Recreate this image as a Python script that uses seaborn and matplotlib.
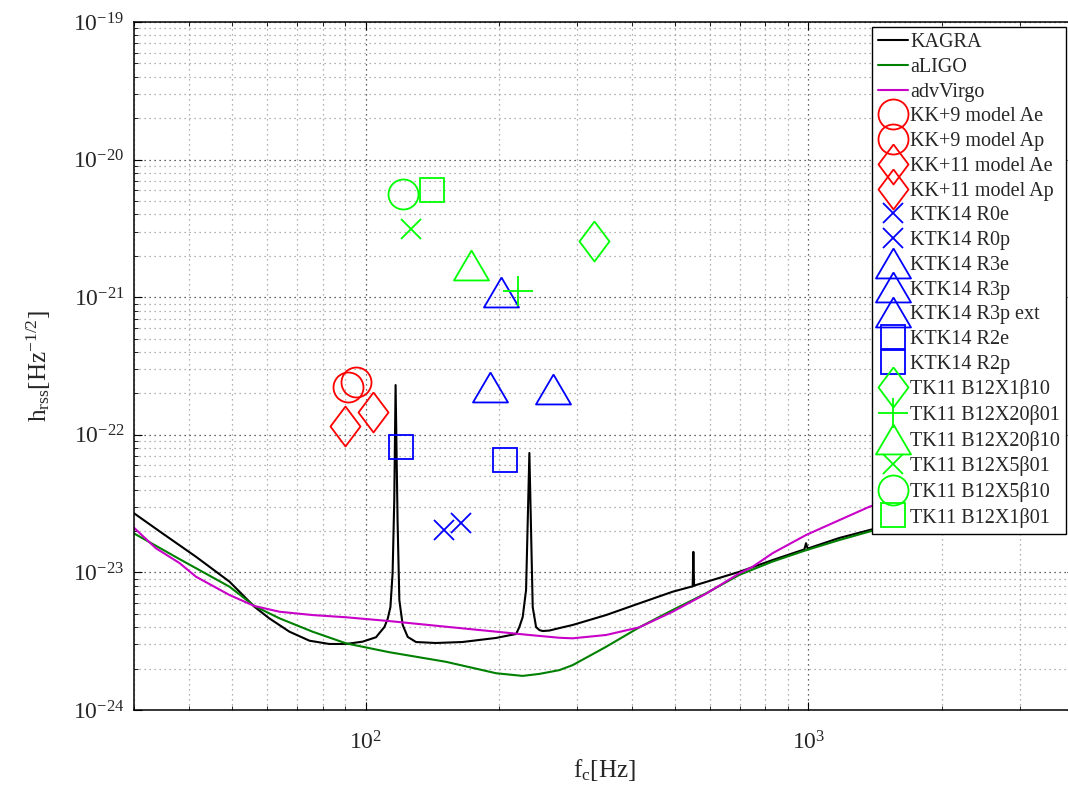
import seaborn as sns
import matplotlib.pyplot as plt
from matplotlib.ticker import NullFormatter, FixedLocator

# Noise curves (f in Hz, h in Hz^-1/2)
kagra_f = [30, 34.8, 41.4, 49.3, 56.1, 60.6, 67.3, 74.7, 82.8, 90.4, 98.5, 105.6, 107.5,
           110.3, 112.2, 113.8, 115.1, 116.1, 116.9, 118.1, 119.2, 121.3, 124.5, 130, 144,
           165.4, 197, 218.8, 222.5, 226.4, 230.4, 234.4, 238.5, 242.7, 246.9, 251.2, 260,
           274, 293.6, 349.3, 415.2, 493.8, 543.3, 548, 549.9, 552, 557.6, 698.5, 830.5,
           979.5, 988, 996, 1175, 1373, 1500]
kagra_h = [2.69e-23, 1.92e-23, 1.30e-23, 8.56e-24, 5.63e-24, 4.64e-24, 3.71e-24, 3.19e-24,
           3.02e-24, 3.02e-24, 3.14e-24, 3.38e-24, 3.63e-24, 4.01e-24, 4.6e-24, 5.6e-24,
           9.9e-24, 3.36e-23, 2.30e-22, 2.40e-23, 6.3e-24, 4.15e-24, 3.40e-24, 3.12e-24,
           3.07e-24, 3.12e-24, 3.34e-24, 3.57e-24, 4.01e-24, 4.74e-24, 7.45e-24, 7.38e-23,
           5.6e-24, 4.01e-24, 3.81e-24, 3.75e-24, 3.78e-24, 3.94e-24, 4.15e-24, 4.90e-24,
           5.96e-24, 7.24e-24, 7.87e-24, 7.9e-24, 1.41e-23, 8.0e-24, 8.10e-24, 1.01e-23,
           1.23e-23, 1.47e-23, 1.63e-23, 1.49e-23, 1.78e-23, 2.03e-23, 2.19e-23]

aligo_f = [30, 38.0, 49.3, 56.1, 63.9, 75.9, 90.4, 113.2, 152, 197.2, 226.3, 246.9, 274,
           293.6, 349.3, 415.2, 493.8, 587.5, 698.5, 830.5, 988, 1175, 1373, 1500]
aligo_h = [1.92e-23, 1.25e-23, 7.87e-24, 5.70e-24, 4.64e-24, 3.71e-24, 3.05e-24, 2.63e-24,
           2.24e-24, 1.85e-24, 1.77e-24, 1.83e-24, 1.95e-24, 2.12e-24, 2.88e-24, 3.99e-24,
           5.33e-24, 7.05e-24, 9.6e-24, 1.20e-23, 1.45e-23, 1.72e-23, 1.98e-23, 2.15e-23]

virgo_f = [30, 33.6, 38.0, 41.4, 49.3, 56.1, 63.9, 75.9, 90.4, 113.2, 152, 197.2, 234.4,
           274, 293.6, 349.3, 415.2, 493.8, 587.5, 698.5, 748.5, 830.5, 988, 1175, 1373, 1500]
virgo_h = [2.11e-23, 1.50e-23, 1.17e-23, 9.31e-24, 6.85e-24, 5.70e-24, 5.18e-24, 4.90e-24,
           4.72e-24, 4.43e-24, 4.03e-24, 3.71e-24, 3.51e-24, 3.35e-24, 3.32e-24, 3.51e-24,
           3.99e-24, 5.18e-24, 7.0e-24, 9.85e-24, 1.10e-23, 1.38e-23, 1.87e-23, 2.40e-23,
           3.00e-23, 3.3e-23]

# Waveform models: one point each
model_names = ['KK+9 model Ae', 'KK+9 model Ap', 'KK+11 model Ae', 'KK+11 model Ap',
               'KTK14 R0e', 'KTK14 R0p', 'KTK14 R3e', 'KTK14 R3p', 'KTK14 R3p ext',
               'KTK14 R2e', 'KTK14 R2p',
               'TK11 B12X1β10', 'TK11 B12X20β01', 'TK11 B12X20β10',
               'TK11 B12X5β01', 'TK11 B12X5β10', 'TK11 B12X1β01']
model_f = [91.1, 95.2, 89.7, 103.8,
           150.6, 164.3, 191.1, 264.6, 202.3,
           120.4, 206.2,
           328, 220.6, 173.1, 126.9, 121.7, 141.3]
model_h = [2.24e-22, 2.41e-22, 1.15e-22, 1.46e-22,
           2.03e-23, 2.27e-23, 2.21e-22, 2.16e-22, 1.10e-21,
           8.2e-23, 6.56e-23,
           2.58e-21, 1.11e-21, 1.71e-21, 3.13e-21, 5.62e-21, 5.98e-21]
model_color = ['#ff0000'] * 4 + ['#0000ff'] * 7 + ['#00ff00'] * 6
model_shape = ['o', 'o', 'dia', 'dia', 'x', 'x', 'tri', 'tri', 'tri', 's', 's',
               'dia', '+', 'tri', 'x', 'o', 's']

# axis ticks (decades only get labels)
x_ticks = [1e2, 1e3]
y_ticks = [1e-24, 1e-23, 1e-22, 1e-21, 1e-20, 1e-19]

# MATLAB-like marker shapes and sizes (points)
diamond = [(0, 1), (0.75, 0), (0, -1), (-0.75, 0), (0, 1)]
triangle = [(0, 1), (-1.17, -1), (1.17, -1), (0, 1)]
shapes = {'o': ('o', 21.6), 's': ('s', 17.3), 'dia': (diamond, 28.8),
          'tri': (triangle, 25.2), 'x': ('x', 15), '+': ('+', 21.6)}

sns.set_style('ticks')
plt.rcParams['font.family'] = ['Liberation Serif', 'DejaVu Serif']
plt.rcParams['mathtext.fontset'] = 'custom'
plt.rcParams['mathtext.rm'] = 'Liberation Serif'
plt.rcParams['mathtext.it'] = 'Liberation Serif:italic'
plt.rcParams['axes.unicode_minus'] = True

fig = plt.figure(figsize=(10.68, 7.89), dpi=100)
ax = fig.add_axes([0.1255, 0.1001, 0.881, 0.872])
ax.set_xscale('log')
ax.set_yscale('log')

# noise curves
sns.lineplot(x=kagra_f, y=kagra_h, color='black', lw=1.5, sort=False, estimator=None,
             ax=ax, label='KAGRA')
sns.lineplot(x=aligo_f, y=aligo_h, color='#008000', lw=1.5, sort=False, estimator=None,
             ax=ax, label='aLIGO')
sns.lineplot(x=virgo_f, y=virgo_h, color='#c800c8', lw=1.5, sort=False, estimator=None,
             ax=ax, label='advVirgo')

# model points, hollow markers
for name, f, h, c, s in zip(model_names, model_f, model_h, model_color, model_shape):
    m, ms = shapes[s]
    ax.plot([f], [h], linestyle='none', marker=m, markersize=ms, mfc='none', mec=c,
            mew=1.3, label=name)

ax.set_xlim(30, 4000)
ax.set_ylim(1e-24, 1e-19)
ax.xaxis.set_major_locator(FixedLocator(x_ticks))
ax.yaxis.set_major_locator(FixedLocator(y_ticks))

# dotted grid, major and minor
ax.grid(which='major', color='#333333', linestyle=(0, (1, 3)), linewidth=0.9)
ax.grid(which='minor', color='#999999', linestyle=(0, (1, 3)), linewidth=0.9)
ax.xaxis.set_minor_formatter(NullFormatter())
ax.yaxis.set_minor_formatter(NullFormatter())
ax.tick_params(which='both', direction='in', top=True, right=True, color='black')
ax.tick_params(which='major', length=6, width=0.8, labelsize=17)
ax.tick_params(which='minor', length=3, width=0.6)
ax.tick_params(axis='y', which='major', pad=7)
ax.tick_params(axis='x', which='major', pad=15)
for sp in ax.spines.values():
    sp.set_linewidth(1.1)
    sp.set_color('black')

ax.set_xlabel(r'$\mathregular{f_c[Hz]}$', fontsize=18, labelpad=2)
ax.set_ylabel(r'$\mathregular{h_{rss}[Hz^{-1/2}]}$', fontsize=18, labelpad=14)

leg = ax.legend(loc='upper right', bbox_to_anchor=(1066 / 1068, 762 / 789),
                bbox_transform=fig.transFigure, borderaxespad=0, fontsize=14.5,
                numpoints=1, handlelength=1.5, handletextpad=0.1, labelspacing=0.28,
                borderpad=0.3, fancybox=False, framealpha=1, edgecolor='black')
leg.get_frame().set_linewidth(1.0)

fig.savefig('out.png', dpi=100)
